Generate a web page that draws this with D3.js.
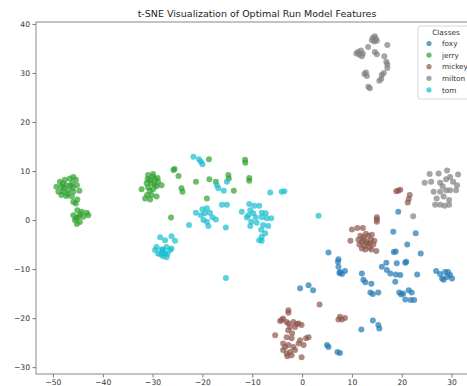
<!DOCTYPE html>
<html>
<head>
<meta charset="utf-8">
<script src="https://cdn.jsdelivr.net/npm/d3@7"></script>
<style>
  html, body { margin: 0; padding: 0; background: #fff; overflow: hidden; }
  svg { display: block; font-family: "DejaVu Sans", sans-serif; }
</style>
</head>
<body>
<svg id="chart" width="467" height="386"></svg>
<script>
// t-SNE embedding, one array of [x, y] per class
const classes = ["foxy", "jerry", "mickey", "milton", "tom"];
const colors = ["#1f77b4", "#2ca02c", "#8c564b", "#7f7f7f", "#17becf"];

const foxy = [
  [19.3,1.7],[18.3,-2.4],[22.8,-2.7],[21.1,-5.0],[18.8,-6.4],[18.4,-6.5],[23.8,-6.8],
  [20.9,-8.5],[19.0,-8.8],[16.9,-8.7],[16.0,-9.5],
  [5.3,-6.6],[7.2,-8.5],[7.3,-9.5],[7.6,-10.6],[8.6,-10.4],[8.0,-11.0],[7.5,-10.8],[7.3,-8.0],
  [12.0,-10.9],[12.3,-12.2],[12.7,-12.7],[13.9,-13.0],[13.7,-14.8],[14.2,-15.1],[15.3,-14.8],
  [17.0,-10.2],[17.7,-10.9],[18.8,-11.1],[19.7,-11.2],[18.7,-12.6],[20.7,-8.7],[23.1,-11.1],
  [19.5,-14.8],[20.3,-15.0],[21.4,-14.3],[22.0,-14.8],[20.7,-16.2],[21.8,-16.3],[22.5,-16.3],[19.9,-15.2],
  [26.9,-10.4],[27.7,-11.0],[28.7,-10.6],[29.1,-11.6],[29.7,-11.2],[28.1,-11.9],[28.4,-12.2],[30.1,-11.9],[29.3,-10.6],
  [-0.4,-13.9],[1.3,-13.3],[2.2,-14.3],
  [14.2,-20.5],[11.9,-22.3],[15.3,-21.4],[15.5,-22.1],
  [5.0,-25.5],[5.3,-25.9],[7.1,-26.9],[7.6,-27.1]
];

const jerry = [
  [-48.6,7.8],[-47.6,8.2],[-46.6,8.5],[-45.9,8.8],[-45.4,8.2],[-49.3,6.8],[-48.3,6.8],[-47.3,7.1],
  [-46.2,7.5],[-45.2,7.1],[-48.9,5.8],[-47.9,5.8],[-46.9,6.1],[-45.9,5.8],[-44.7,6.0],[-48.3,5.1],
  [-47.3,4.9],[-46.2,4.8],[-45.9,3.7],[-45.4,3.4],[-45.1,4.2],[-47.8,6.5],[-46.5,7.0],[-48.0,7.4],
  [-47.0,5.3],[-46.0,6.6],
  [-45.1,2.0],[-44.2,1.7],[-43.2,1.5],[-45.9,1.0],[-44.9,0.7],[-43.9,0.7],[-42.9,1.0],[-45.6,0.0],
  [-44.6,-0.4],[-45.2,-0.8],[-44.5,1.2],[-45.3,0.4],
  [-30.9,9.2],[-29.9,9.4],[-30.5,8.1],[-29.5,8.3],[-28.9,7.8],[-28.2,7.1],[-31.2,7.5],[-30.2,7.5],
  [-29.2,6.9],[-30.9,6.7],[-29.9,6.3],[-32.2,6.3],[-31.5,4.4],[-30.5,4.2],[-30.2,5.1],[-29.2,4.8],
  [-31.1,5.1],[-30.0,8.8],[-29.6,7.2],[-30.6,6.0],[-29.0,8.6],[-31.0,8.4],
  [-25.8,10.2],[-25.6,10.4],[-24.8,9.0],[-24.2,6.5],[-24.0,5.8],[-21.3,7.8],[-18.7,12.4],[-18.6,8.3],
  [-17.3,7.8],[-14.8,9.2],[-14.7,8.5],[-13.7,6.0],[-19.1,4.4],[-26.3,0.5],[-11.45,12.3],[-11.4,11.7],
  [-10.6,8.6],[-10.6,8.0]
];

const mickey = [
  [18.9,5.9],[19.7,6.2],[19.3,6.0],[21.6,5.1],[21.4,4.3],[21.2,3.6],
  [15.0,0.55],[15.0,-0.35],[15.0,0.1],
  [10.0,-1.9],[11.1,-1.6],[12.2,-1.6],[9.7,-4.2],[14.9,-6.3],
  [12.9,-4.4],[12.3,-3.5],[13.3,-3.2],[12.0,-4.5],[13.8,-4.0],[14.3,-5.0],[12.5,-5.3],[13.5,-5.6],
  [11.7,-3.2],[12.8,-2.8],[14.0,-3.0],[11.5,-5.0],[12.7,-6.0],[13.6,-4.8],[12.4,-4.0],[13.1,-4.8],
  [14.5,-4.2],[12.0,-5.8],[13.9,-6.0],[11.3,-4.0],
  [3.5,-17.2],[7.6,-19.7],[8.0,-20.3],[7.3,-20.3],[8.6,-20.0],
  [-2.75,-18.9],[-2.75,-18.4],[-4.4,-20.6],[-3.8,-20.1],[-2.75,-21.1],[-1.75,-20.8],[-1.1,-21.2],
  [-2.4,-21.8],[-1.4,-21.8],[-0.7,-21.1],[-3.1,-20.8],[-5.4,-23.5],[-3.1,-23.9],[-2.1,-24.1],
  [-0.4,-24.5],[0.8,-24.1],[1.3,-23.9],[-3.8,-25.2],[-2.75,-25.5],[-1.75,-25.9],[-0.7,-25.2],
  [0.3,-25.5],[-3.8,-26.5],[-2.4,-26.9],[-1.4,-26.5],[-2.95,-27.8],[-2.1,-27.6],[-0.1,-28.0],
  [-3.4,-25.9],[-3.1,-27.2],[-4.1,-20.4],[-0.1,-21.4],[-2.8,-22.5],[-2.0,-23.1]
];

const milton = [
  [14.2,37.2],[14.8,37.0],[14.5,36.4],[15.0,36.6],[14.0,36.7],[14.6,37.5],
  [17.1,35.7],[13.25,35.3],
  [11.2,34.3],[11.8,34.6],[12.2,34.0],[11.5,33.7],[12.0,33.4],[10.9,34.0],
  [14.6,34.3],[15.0,33.8],[16.5,33.4],[17.1,31.8],[16.9,32.3],[17.1,31.0],
  [16.0,29.6],[16.4,30.0],[12.5,29.8],[13.0,29.4],[12.8,30.1],[15.5,28.4],[15.9,28.8],
  [13.3,27.2],[13.6,26.9],
  [25.6,9.4],[27.4,9.5],[29.1,10.1],[31.3,9.3],[24.6,7.6],[25.9,7.8],[27.7,7.6],[28.9,8.3],
  [30.3,7.8],[31.1,7.1],[26.4,5.8],[27.7,5.8],[28.9,6.1],[29.7,6.1],[30.9,6.1],[27.0,4.4],
  [28.4,4.8],[29.5,4.1],[26.7,3.1],[27.7,3.1],[28.6,2.9],[29.5,3.1],[28.2,6.9],[29.7,8.8],
  [22.3,0.8]
];

const tom = [
  [-21.8,12.9],[-20.7,12.4],[-20.3,11.9],[-20.0,11.4],
  [-17.1,7.1],[-16.8,6.5],[-15.7,6.0],[-15.1,7.8],
  [-19.1,2.4],[-20.0,2.2],[-21.3,1.5],[-20.3,1.0],[-19.5,1.4],[-18.5,1.5],[-18.0,0.55],[-17.3,0.1],
  [-19.8,0.0],[-19.1,-0.35],[-18.8,-1.2],[-22.7,-1.0],[-16.1,3.1],[-15.1,3.1],[-15.3,-1.5],
  [-28.5,-3.5],[-27.5,-4.1],[-26.2,-3.3],[-25.5,-4.2],[-29.2,-5.5],[-28.2,-6.0],[-27.2,-5.5],
  [-26.5,-6.1],[-28.9,-6.8],[-27.9,-7.4],[-27.0,-6.9],[-26.2,-5.8],[-29.5,-6.1],[-28.0,-6.5],
  [-27.5,-6.8],[-28.4,-7.0],[-27.2,-7.6],[-27.9,-6.0],
  [-15.3,-11.8],
  [-6.4,5.6],[-4.1,5.8],[-3.55,5.9],[3.3,0.9],
  [-10.6,3.3],[-9.6,2.9],[-8.6,2.9],[-12.1,1.7],[-10.4,2.0],[-10.8,1.0],[-9.8,1.4],[-9.3,0.55],
  [-11.1,0.5],[-8.1,1.5],[-7.3,1.4],[-8.1,0.55],[-7.1,0.35],[-6.2,0.35],[-10.2,-0.35],[-9.1,-0.55],
  [-7.8,-1.0],[-6.8,-1.2],[-10.4,-1.2],[-7.4,-2.7],[-8.1,-3.4],[-8.6,-4.1],[-8.1,-4.2],[-8.2,-2.0]
];

const seriesData = [foxy, jerry, mickey, milton, tom];

const xDomain = [-53.4, 34.5];
const yDomain = [-31.4, 40.4];
const xTicks = [-50, -40, -30, -20, -10, 0, 10, 20, 30];
const yTicks = [-30, -20, -10, 0, 10, 20, 30, 40];
const titleText = "t-SNE Visualization of Optimal Run Model Features";
const legendTitle = "Classes";

const svg = d3.select("#chart");
const plot = { left: 36, right: 474, top: 22, bottom: 374 };

const x = d3.scaleLinear().domain(xDomain).range([plot.left, plot.right]);
const y = d3.scaleLinear().domain(yDomain).range([plot.bottom, plot.top]);

// title
svg.append("text")
  .attr("x", (plot.left + plot.right) / 2 + 2)
  .attr("y", 17)
  .attr("text-anchor", "middle")
  .attr("font-size", 9.5)
  .attr("fill", "#222")
  .text(titleText);

// axes
const fmt = d => d < 0 ? "\u2212" + Math.abs(d) : String(d);
const xAxis = svg.append("g")
  .attr("transform", `translate(0,${plot.bottom})`)
  .call(d3.axisBottom(x).tickValues(xTicks).tickFormat(fmt).tickSize(3.5).tickPadding(2.5));
const yAxis = svg.append("g")
  .attr("transform", `translate(${plot.left},0)`)
  .call(d3.axisLeft(y).tickValues(yTicks).tickFormat(fmt).tickSize(3.5).tickPadding(2.5));
[xAxis, yAxis].forEach(g => {
  g.select(".domain").remove();
  g.selectAll(".tick line").attr("stroke", "#555").attr("stroke-width", 0.8);
  g.selectAll(".tick text").attr("fill", "#333").attr("font-size", 7.6)
    .attr("font-family", "DejaVu Sans, sans-serif");
});

// frame
svg.append("rect")
  .attr("x", plot.left).attr("y", plot.top)
  .attr("width", plot.right - plot.left).attr("height", plot.bottom - plot.top)
  .attr("fill", "none").attr("stroke", "#888").attr("stroke-width", 1);

// points
const pts = svg.append("g");
seriesData.forEach((arr, i) => {
  pts.append("g").selectAll("circle")
    .data(arr).join("circle")
    .attr("cx", d => x(d[0]))
    .attr("cy", d => y(d[1]))
    .attr("r", 3)
    .attr("fill", colors[i])
    .attr("fill-opacity", 0.7);
});

// legend
const lg = svg.append("g").attr("transform", "translate(418,26)");
lg.append("rect")
  .attr("width", 70).attr("height", 73).attr("rx", 2)
  .attr("fill", "#fff").attr("fill-opacity", 0.8)
  .attr("stroke", "#ccc").attr("stroke-width", 0.8);
lg.append("text").attr("x", 28).attr("y", 9).attr("text-anchor", "middle")
  .attr("font-size", 7.3).attr("fill", "#333").text(legendTitle);
classes.forEach((c, i) => {
  const row = lg.append("g").attr("transform", `translate(0,${17.5 + i * 11.6})`);
  row.append("circle").attr("cx", 11).attr("cy", 0).attr("r", 2.6)
    .attr("fill", colors[i]).attr("fill-opacity", 0.7);
  row.append("text").attr("x", 24).attr("y", 2.6)
    .attr("font-size", 7.3).attr("fill", "#333").text(c);
});
</script>
</body>
</html>
